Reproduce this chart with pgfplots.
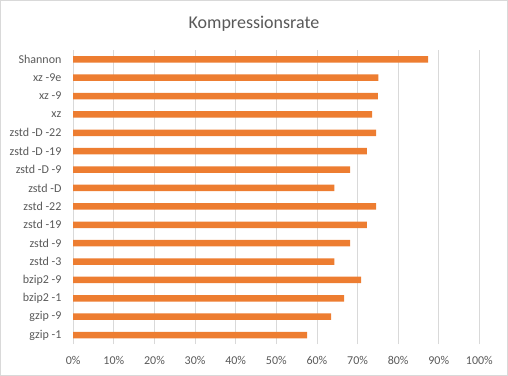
\documentclass[border=0pt]{standalone}
\usepackage{pgfplots}
\pgfplotsset{compat=1.18}
\usepackage{fontspec}
\setmainfont{Carlito}
\definecolor{barorange}{HTML}{ED7D31}
\definecolor{txtgray}{HTML}{595959}
\definecolor{gridgray}{HTML}{D9D9D9}
\begin{document}
\begin{tikzpicture}[x=1pt,y=1pt]
\draw[gridgray, line width=0.8pt] (0.5,0.5) rectangle (507.5,375.5);
\node[txtgray, font=\fontsize{18}{20}\selectfont, anchor=center] at (254,352.5) {Kompressionsrate};
\begin{axis}[
  at={(73.3pt,31.8pt)}, anchor=south west,
  width=406pt, height=294pt, scale only axis,
  xbar, bar width=6.5pt,
  xmin=0, xmax=100,
  ymin=-0.5, ymax=15.5,
  xtick={0,10,...,100},
  xticklabels={0\%,10\%,20\%,30\%,40\%,50\%,60\%,70\%,80\%,90\%,100\%},
  ytick={0,...,15},
  yticklabels={gzip -1,gzip -9,bzip2 -1,bzip2 -9,zstd -3,zstd -9,zstd -19,zstd -22,zstd -D,zstd -D -9,zstd -D -19,zstd -D -22,xz,xz -9,xz -9e,Shannon},
  major tick length=0pt,
  axis line style={draw=none},
  xmajorgrids=true, ymajorgrids=false,
  major grid style={gridgray, line width=0.8pt},
  tick label style={txtgray, font=\fontsize{12}{14}\selectfont},
  xticklabel style={anchor=center, yshift=-15.8pt, inner sep=0pt},
  yticklabel style={anchor=east, xshift=-11.6pt, inner sep=0pt},
]
\addplot[fill=barorange, draw=none] coordinates {
(57.6,0) (63.5,1) (66.7,2) (70.9,3) (64.3,4) (68.2,5) (72.3,6) (74.6,7)
(64.3,8) (68.2,9) (72.3,10) (74.6,11) (73.6,12) (75.0,13) (75.1,14) (87.4,15)
};
\end{axis}
\end{tikzpicture}
\end{document}
